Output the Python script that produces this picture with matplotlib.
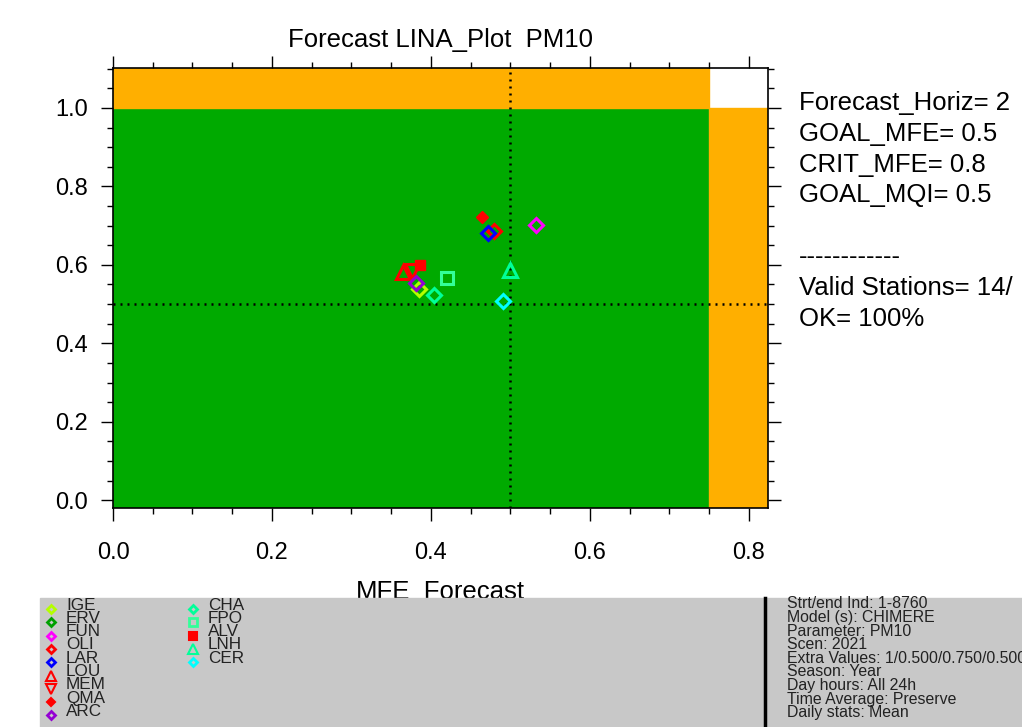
import numpy as np
import matplotlib
matplotlib.use("Agg")
import matplotlib.pyplot as plt
from matplotlib.patches import Rectangle
from matplotlib.lines import Line2D

plt.rcParams["font.family"] = ["Liberation Sans", "DejaVu Sans"]

# ---- data ----
STATIONS = ["IGE", "ERV", "FUN", "OLI", "LAR", "LOU", "MEM", "QMA", "ARC",
            "CHA", "FPO", "ALV", "LNH", "CER"]
MFE = [0.385, np.nan, 0.532, 0.479, 0.472, 0.365, 0.376, 0.464, 0.381,
       0.404, 0.420, 0.386, 0.500, 0.490]
MQI = [0.538, np.nan, 0.702, 0.687, 0.680, 0.582, 0.585, 0.723, 0.554,
       0.523, 0.567, 0.600, 0.587, 0.508]
MARKERS = ["D", "D", "D", "D", "D", "^", "v", "D", "D", "D", "s", "s", "^", "D"]
FILLED = [False, False, False, False, False, False, False, True, False,
          False, False, True, False, False]
COLORS = ["#B4FF00", "#00A000", "#FF00FF", "#FF0000", "#0000FF", "#FF0000",
          "#FF0000", "#FF0000", "#9400D3", "#00FF99", "#33FF99", "#FF0000",
          "#00FF99", "#00FFFF"]

GOAL_MFE = 0.5
GOAL_MQI = 0.5
CRIT_X = 0.75
INFO_LINES = ["Forecast_Horiz= 2", "GOAL_MFE= 0.5", "CRIT_MFE= 0.8",
              "GOAL_MQI= 0.5", "", "------------", "Valid Stations= 14/",
              "OK= 100%"]
META_LINES = ["Strt/end Ind: 1-8760", "Model (s): CHIMERE", "Parameter: PM10",
              "Scen: 2021", "Extra Values: 1/0.500/0.750/0.500",
              "Season: Year", "Day hours: All 24h",
              "Time Average: Preserve", "Daily stats: Mean"]

GREEN = "#00AA00"
ORANGE = "#FFAF00"

W, H = 1022, 727
fig = plt.figure(figsize=(W / 100, H / 100), dpi=100)
ax = fig.add_axes([113 / W, 1 - 508 / H, 655 / W, 440 / H])

xmax, ymin, ymax = 0.824, -0.02, 1.102
ax.set_xlim(0, xmax)
ax.set_ylim(ymin, ymax)

# background zones
ax.add_patch(Rectangle((0, ymin), CRIT_X, 1.0 - ymin, color=GREEN, zorder=0))
ax.add_patch(Rectangle((0, 1.0), CRIT_X, ymax - 1.0, color=ORANGE, zorder=0))
ax.add_patch(Rectangle((CRIT_X, ymin), xmax - CRIT_X, 1.0 - ymin,
                       color=ORANGE, zorder=0))

ax.axvline(GOAL_MFE, color="black", ls=(0, (0.8, 2.0)), lw=1.8, zorder=1)
ax.axhline(GOAL_MQI, color="black", ls=(0, (0.8, 2.0)), lw=1.8, zorder=1)

for x, y, m, f, c in zip(MFE, MQI, MARKERS, FILLED, COLORS):
    if f:
        ms = 7.5 if m == "s" else 6.5
        ax.plot(x, y, m, ms=ms, mfc=c, mec=c, zorder=3)
    else:
        ms = {"D": 7.5, "s": 8.5, "^": 10, "v": 10}[m]
        ax.plot(x, y, m, ms=ms, mfc="none", mec=c, mew=2.2, zorder=3)

ax.set_xticks([0.0, 0.2, 0.4, 0.6, 0.8])
ax.set_yticks([0.0, 0.2, 0.4, 0.6, 0.8, 1.0])
ax.set_xticks(np.arange(0, 0.83, 0.05), minor=True)
ax.set_yticks(np.arange(0, 1.11, 0.05), minor=True)
ax.tick_params(which="both", direction="out", top=True, right=True,
               labelsize=17, width=1.0)
ax.tick_params(which="major", length=9)
ax.tick_params(which="minor", length=4)
ax.tick_params(axis="x", pad=15.5)
ax.tick_params(axis="y", pad=9)
for s in ax.spines.values():
    s.set_linewidth(1.2)

ax.set_title("Forecast LINA_Plot  PM10", fontsize=18.5, pad=15)
ax.set_xlabel("MFE_Forecast", fontsize=18.5, labelpad=11.5)

# info block on the right
for i, line in enumerate(INFO_LINES):
    fig.text(799 / W, 1 - (103 + i * 30.8) / H, line, fontsize=18.5,
             va="center", ha="left")

# grey panel at the bottom
fig.patches.append(Rectangle((40 / W, 0), 1 - 40 / W, (H - 598) / H,
                             transform=fig.transFigure, color="#C8C8C8",
                             zorder=1))
fig.add_artist(Line2D([765 / W, 765 / W], [0, (H - 598) / H], color="black",
                      lw=2.5, transform=fig.transFigure, zorder=2))

# manual legend
for i, (name, m, f, c) in enumerate(zip(STATIONS, MARKERS, FILLED, COLORS)):
    col, row = divmod(i, 9)
    mx = (51 + col * 142) / W
    tx = (66 + col * 142) / W
    ty = 1 - (605 + row * 13.3) / H
    my = 1 - (609 + row * 13.3) / H
    fig.text(tx, ty, name, fontsize=12.3, va="center", ha="left",
             color="#222222", zorder=3)
    if m == "D" and f:
        ms, mfc, mew = 4, c, 1.5
    elif f:
        ms, mfc, mew = 5.5, c, 1.5
    else:
        ms, mfc = {"D": 4.5, "s": 5.5, "^": 6.5, "v": 6.5}[m], "none"
        mew = 2 if m in ("D", "s") else 1.5
    fig.add_artist(Line2D([mx], [my], marker=m, ms=ms, mfc=mfc, mec=c,
                          mew=mew, ls="none", transform=fig.transFigure,
                          zorder=3))

for i, line in enumerate(META_LINES):
    fig.text(787 / W, 1 - (604 + i * 13.6) / H, line, fontsize=11.4,
             va="center", ha="left", color="#222222", zorder=3)

fig.savefig("out.png", dpi=100)
